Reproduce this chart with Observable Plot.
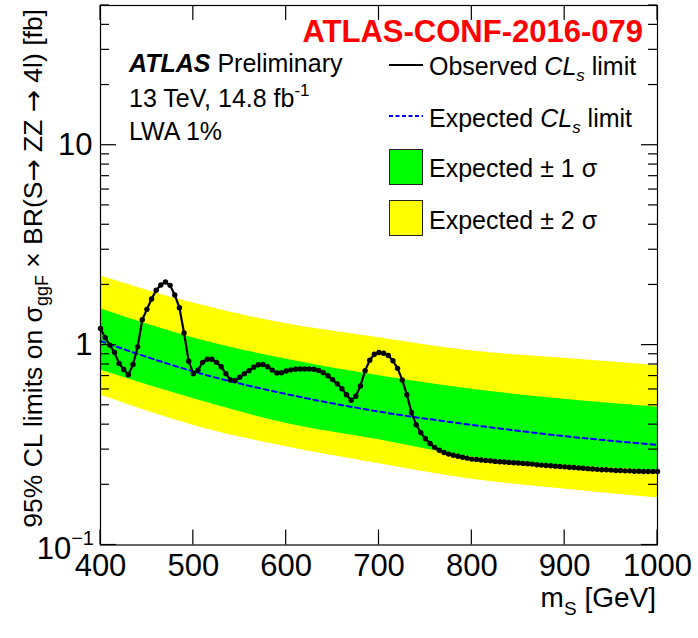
<!DOCTYPE html>
<html><head><meta charset="utf-8">
<script src="https://cdn.jsdelivr.net/npm/d3@7"></script>
<script src="https://cdn.jsdelivr.net/npm/@observablehq/plot@0.6"></script>
<style>body{margin:0;background:#fff} #chart svg{display:block}</style>
</head><body><div id="chart"></div>
<script>
const FONT = "'Liberation Sans', Arial, Helvetica, sans-serif";

// Observed CLs limit (fb) vs m_S (GeV)
const massObs = [400,405,410,415,420,425,430,435,440,445,450,455,460,465,470,475,480,485,490,495,
  500,505,510,515,520,525,530,535,540,545,550,555,560,565,570,575,580,585,590,595,
  600,605,610,615,620,625,630,635,640,645,650,655,660,665,670,675,680,685,690,695,
  700,705,710,715,720,725,730,735,740,745,750,755,760,765,770,775,780,785,790,795,
  800,805,810,815,820,825,830,835,840,845,850,855,860,865,870,875,880,885,890,895,
  900,905,910,915,920,925,930,935,940,945,950,955,960,965,970,975,980,985,990,995,1000];
const obsLimit = [1.21,1.09,1.00,0.92,0.81,0.755,0.71,0.80,0.98,1.34,1.51,1.70,1.88,2.00,2.07,1.99,1.78,1.54,1.15,0.83,
  0.72,0.75,0.82,0.85,0.85,0.82,0.78,0.72,0.67,0.665,0.69,0.72,0.745,0.775,0.797,0.80,0.78,0.75,0.725,0.728,
  0.742,0.752,0.757,0.759,0.76,0.76,0.757,0.746,0.728,0.702,0.672,0.64,0.605,0.565,0.53,0.555,0.625,0.745,0.84,0.90,
  0.918,0.91,0.888,0.835,0.765,0.67,0.565,0.46,0.40,0.365,0.34,0.322,0.308,0.298,0.29,0.285,0.281,0.278,0.275,0.272,
  0.269,0.268,0.266,0.265,0.264,0.262,0.261,0.260,0.259,0.258,0.257,0.256,0.255,0.254,0.252,0.251,0.250,0.249,0.248,0.247,
  0.246,0.245,0.244,0.243,0.242,0.241,0.240,0.239,0.238,0.238,0.237,0.236,0.236,0.235,0.235,0.234,0.234,0.233,0.233,0.233,0.233];

// Expected limit and bands
const massBand = [400,505,603,700,798,896,1000];
const expLimit = [1.047,0.727,0.565,0.465,0.40,0.352,0.317];
const band1Hi  = [1.52,1.07,0.845,0.703,0.603,0.537,0.489];
const band1Lo  = [0.75,0.531,0.403,0.336,0.276,0.251,0.236];
const band2Hi  = [2.22,1.60,1.27,1.09,0.937,0.861,0.788];
const band2Lo  = [0.563,0.391,0.308,0.255,0.214,0.191,0.172];

const xTicks = [400,500,600,700,800,900,1000];
const yLabelTicks = [1,10];
const yMajor = [0.1,1,10];
const yMinor = [0.2,0.3,0.4,0.5,0.6,0.7,0.8,0.9,2,3,4,5,6,7,8,9,20,30,40,50];

const obs = massObs.map((m,i)=>({m, v: obsLimit[i]}));
const band = massBand.map((m,i)=>({m, exp: expLimit[i], g1: band1Lo[i], g2: band1Hi[i], y1: band2Lo[i], y2: band2Hi[i]}));

const W=698, H=638, mL=100, mR=41, mT=5, mB=93.5;
const plot = Plot.plot({
  width: W, height: H, marginLeft: mL, marginRight: mR, marginTop: mT, marginBottom: mB,
  style: {fontFamily: FONT, background: "white", color: "black", overflow: "visible"},
  x: {domain: [400,1000]},
  y: {type: "log", domain: [0.1, 50]},
  marks: [
    Plot.areaY(band, {x:"m", y1:"y1", y2:"y2", fill:"#ffff00", curve:"monotone-x"}),
    Plot.areaY(band, {x:"m", y1:"g1", y2:"g2", fill:"#00ff00", curve:"monotone-x"}),
    Plot.line(band, {x:"m", y:"exp", stroke:"#0000ff", strokeWidth:2, strokeDasharray:"5,3.5", curve:"monotone-x"}),
    Plot.line(obs, {x:"m", y:"v", stroke:"black", strokeWidth:2.2}),
    Plot.dot(obs, {x:"m", y:"v", r:2.7, fill:"black"}),
    Plot.axisX({anchor:"bottom", ticks: xTicks, tickSize: 0, tickPadding: 8.5, fontSize: 31, tickFormat: d=>String(d), label: null}),
    Plot.axisY({anchor:"left", ticks: yLabelTicks, tickSize: 0, tickPadding: 8, fontSize: 31, tickFormat: d=>String(d), label: null}),
    Plot.frame({stroke:"black", strokeWidth:1.2})
  ]
});
document.getElementById("chart").appendChild(plot);

const svg = d3.select(plot);
const xs = plot.scale("x"), ys = plot.scale("y");
const x0 = mL, x1 = W - mR, y0 = mT, y1 = H - mB;
const g = svg.append("g").attr("stroke","black").attr("stroke-width",1.2);
xTicks.forEach(t => {
  const px = xs.apply(t);
  g.append("line").attr("x1",px).attr("x2",px).attr("y1",y1).attr("y2",y1-15);
  g.append("line").attr("x1",px).attr("x2",px).attr("y1",y0).attr("y2",y0+15);
});
yMajor.forEach(t => {
  const py = ys.apply(t);
  g.append("line").attr("x1",x0).attr("x2",x0+16).attr("y1",py).attr("y2",py);
  g.append("line").attr("x1",x1).attr("x2",x1-16).attr("y1",py).attr("y2",py);
});
yMinor.forEach(t => {
  const py = ys.apply(t);
  g.append("line").attr("x1",x0).attr("x2",x0+9).attr("y1",py).attr("y2",py);
  g.append("line").attr("x1",x1).attr("x2",x1-9).attr("y1",py).attr("y2",py);
});

const T = svg.append("g").attr("font-family", FONT).attr("fill","black").attr("text-anchor","start");

// 10^-1 label
const l01 = T.append("text").attr("x", x0-6).attr("y", ys.apply(0.1)+14.5).attr("text-anchor","end").attr("font-size",31);
l01.append("tspan").text("10");
l01.append("tspan").attr("font-size",20).attr("dy",-14).text("\u22121");

// axis titles
const xt = T.append("text").attr("x", x1-1).attr("y", 607).attr("text-anchor","end").attr("font-size",28);
xt.append("tspan").text("m");
xt.append("tspan").attr("font-size",19).attr("dy",8).text("S");
xt.append("tspan").attr("dy",-8).text(" [GeV]");

const yt = T.append("text").attr("transform","translate(42,9) rotate(-90)").attr("text-anchor","end").attr("font-size",26.5);
yt.append("tspan").text("95% CL limits on \u03c3");
yt.append("tspan").attr("font-size",18).attr("dy",6).text("ggF");
yt.append("tspan").attr("dy",-6).text(" \u00d7 BR(S");
yt.append("tspan").attr("font-family","'DejaVu Sans'").text("\u2192");
yt.append("tspan").text(" ZZ ");
yt.append("tspan").attr("font-family","'DejaVu Sans'").text("\u2192");
yt.append("tspan").text(" 4l) [fb]");

// ATLAS labels
const a1 = T.append("text").attr("x",129).attr("y",71.7).attr("font-size",25);
a1.append("tspan").attr("font-weight","bold").attr("font-style","italic").text("ATLAS");
a1.append("tspan").text(" Preliminary");
const a2 = T.append("text").attr("x",129).attr("y",106.7).attr("font-size",25);
a2.append("tspan").text("13 TeV, 14.8 fb");
a2.append("tspan").attr("font-size",17).attr("dy",-11).text("-1");
T.append("text").attr("x",129).attr("y",140).attr("font-size",25).text("LWA 1%");

T.append("text").attr("x",643).attr("y",42).attr("text-anchor","end").attr("font-size",31)
  .attr("font-weight","bold").attr("fill","#ff0000").text("ATLAS-CONF-2016-079");

// Legend
const L = svg.append("g").attr("font-family", FONT).attr("text-anchor","start").attr("fill","black");
L.append("line").attr("x1",389).attr("x2",423).attr("y1",65).attr("y2",65).attr("stroke","black").attr("stroke-width",2);
L.append("line").attr("x1",389).attr("x2",423).attr("y1",116).attr("y2",116).attr("stroke","#0000ff").attr("stroke-width",2).attr("stroke-dasharray","4,2.5");
L.append("rect").attr("x",389.5).attr("y",149.5).attr("width",33).attr("height",35).attr("fill","#00ff00").attr("stroke","#222").attr("stroke-width",1);
L.append("rect").attr("x",389.5).attr("y",200.5).attr("width",33).attr("height",35).attr("fill","#ffff00").attr("stroke","#222").attr("stroke-width",1);
const lt1 = L.append("text").attr("x",429).attr("y",75).attr("font-size",25);
lt1.append("tspan").text("Observed ");
lt1.append("tspan").attr("font-style","italic").text("CL");
lt1.append("tspan").attr("font-style","italic").attr("font-size",17).attr("dy",6).text("s");
lt1.append("tspan").attr("dy",-6).text(" limit");
const lt2 = L.append("text").attr("x",429).attr("y",126.7).attr("font-size",25);
lt2.append("tspan").text("Expected ");
lt2.append("tspan").attr("font-style","italic").text("CL");
lt2.append("tspan").attr("font-style","italic").attr("font-size",17).attr("dy",6).text("s");
lt2.append("tspan").attr("dy",-6).text(" limit");
L.append("text").attr("x",429).attr("y",177.3).attr("font-size",25).text("Expected \u00b1 1 \u03c3");
L.append("text").attr("x",429).attr("y",229.3).attr("font-size",25).text("Expected \u00b1 2 \u03c3");
</script>
</body></html>
